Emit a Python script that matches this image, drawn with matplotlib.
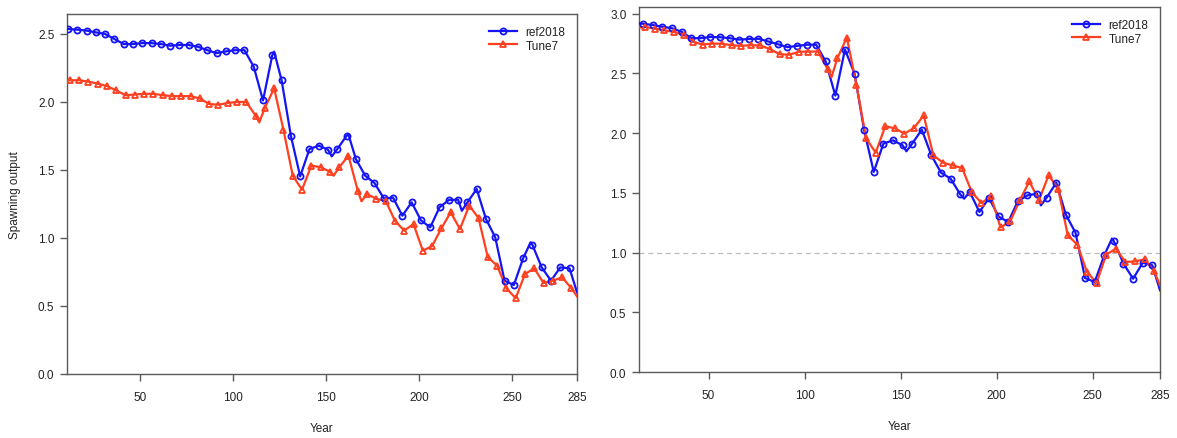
import matplotlib
matplotlib.use("Agg")
import numpy as np
import matplotlib.pyplot as plt

plt.rcParams['font.family'] = ['Liberation Sans', 'DejaVu Sans']

# ---------------- data ----------------
series_names = ["ref2018", "Tune7"]
x_ticks = [50, 100, 150, 200, 250, 285]
left_y_ticks = [0.0, 0.5, 1.0, 1.5, 2.0, 2.5]
right_y_ticks = [0.0, 0.5, 1.0, 1.5, 2.0, 2.5, 3.0]

left_ref_years = [11, 16, 21, 26, 31, 36, 41, 46, 51, 56, 61, 66, 71, 76, 81, 86, 91, 96, 101, 106,
                  111, 116, 121, 122, 126, 131, 136, 141, 146, 151, 153, 156, 161, 162, 166, 171, 176,
                  181, 186, 191, 196, 201, 206, 211, 216, 221, 223, 226, 231, 236, 241, 246, 251, 256,
                  260, 261, 266, 271, 276, 281, 285]
left_ref_vals = [2.537, 2.532, 2.525, 2.512, 2.50, 2.463, 2.426, 2.426, 2.433, 2.433, 2.426, 2.414,
                 2.419, 2.419, 2.406, 2.381, 2.359, 2.372, 2.381, 2.381,
                 2.26, 2.011, 2.344, 2.37, 2.16, 1.752, 1.453, 1.654, 1.679, 1.649, 1.60, 1.654, 1.752,
                 1.76, 1.58, 1.458, 1.404, 1.292, 1.296, 1.164, 1.262, 1.13, 1.078, 1.225, 1.279, 1.282,
                 1.20, 1.262, 1.36, 1.14, 1.005, 0.686, 0.654, 0.85, 0.968, 0.949, 0.784, 0.686, 0.784,
                 0.777, 0.60]

left_tune_years = [11, 12, 17, 22, 27, 32, 37, 42, 47, 52, 57, 62, 67, 72, 77, 82, 87, 92, 97, 102, 107,
                   112, 114, 117, 122, 127, 132, 137, 142, 147, 152, 154, 157, 162, 167, 169, 172, 177,
                   182, 187, 192, 197, 202, 207, 212, 217, 222, 227, 232, 237, 242, 247, 252, 257, 262,
                   267, 272, 277, 282, 285]
left_tune_vals = [2.16, 2.16, 2.16, 2.15, 2.135, 2.117, 2.085, 2.05, 2.055, 2.06, 2.06, 2.05, 2.043,
                  2.043, 2.043, 2.026, 1.985, 1.98, 1.993, 2.0, 2.0,
                  1.90, 1.85, 1.957, 2.10, 1.796, 1.458, 1.355, 1.532, 1.52, 1.488, 1.458, 1.52, 1.605,
                  1.348, 1.27, 1.324, 1.287, 1.274, 1.127, 1.054, 1.103, 0.907, 0.94, 1.071, 1.189,
                  1.066, 1.238, 1.147, 0.858, 0.797, 0.63, 0.557, 0.735, 0.777, 0.669, 0.686, 0.711,
                  0.63, 0.571]

right_ref_years = [14, 16, 21, 26, 31, 36, 41, 46, 51, 56, 61, 66, 71, 76, 81, 86, 91, 96, 101, 106,
                   111, 116, 121, 126, 131, 136, 141, 146, 151, 153, 156, 161, 166, 171, 176, 181, 183,
                   186, 191, 196, 201, 206, 211, 216, 221, 223, 226, 231, 236, 241, 246, 251, 256, 260,
                   261, 266, 271, 276, 281, 285]
right_ref_vals = [2.92, 2.915, 2.905, 2.89, 2.878, 2.848, 2.795, 2.795, 2.805, 2.803, 2.795, 2.783,
                  2.788, 2.79, 2.768, 2.745, 2.72, 2.73, 2.74, 2.74,
                  2.60, 2.314, 2.70, 2.498, 2.024, 1.675, 1.912, 1.94, 1.898, 1.848, 1.912, 2.029,
                  1.814, 1.669, 1.619, 1.488, 1.451, 1.507, 1.34, 1.457, 1.302, 1.256, 1.429, 1.479,
                  1.493, 1.395, 1.46, 1.585, 1.317, 1.167, 0.787, 0.754, 0.977, 1.117, 1.094, 0.907,
                  0.781, 0.915, 0.893, 0.684]

right_tune_years = [14, 17, 22, 27, 32, 37, 42, 47, 52, 57, 62, 67, 72, 77, 82, 87, 92, 97, 102, 107,
                    112, 114, 117, 122, 127, 132, 137, 142, 147, 152, 157, 162, 167, 172, 177, 182, 187,
                    192, 197, 202, 207, 212, 217, 222, 227, 232, 237, 242, 247, 252, 257, 262, 267, 272,
                    277, 282, 285]
right_tune_vals = [2.885, 2.889, 2.875, 2.861, 2.847, 2.825, 2.765, 2.742, 2.75, 2.748, 2.736, 2.731,
                   2.736, 2.734, 2.703, 2.661, 2.656, 2.681, 2.683, 2.683,
                   2.536, 2.467, 2.625, 2.80, 2.403, 1.958, 1.836, 2.058, 2.04, 1.996, 2.043, 2.149,
                   1.814, 1.753, 1.73, 1.708, 1.507, 1.415, 1.47, 1.21, 1.261, 1.437, 1.596, 1.437,
                   1.647, 1.535, 1.144, 1.066, 0.837, 0.748, 0.982, 1.033, 0.921, 0.926, 0.943, 0.843,
                   0.725]

ref_marker_offset = 11   # markers every 5 years starting at year 11
tune_marker_offset = 12  # markers every 5 years starting at year 12

# ---------------- style ----------------
BLUE = '#1414f5'
RED = '#ff4020'
SPINE = '#5a5a5a'
TXT = '#222222'

fig = plt.figure(figsize=(11.77, 4.39), dpi=100)
W, H = 1177, 439
axL = fig.add_axes([67 / W, 1 - 375 / H, (577 - 67) / W, (375 - 15) / H])
axR = fig.add_axes([639 / W, 1 - 373 / H, (1160 - 639) / W, (373 - 8) / H])


def draw_series(ax, yrs, vals, offset, color, marker, label, ms):
    yrs = np.asarray(yrs, dtype=float)
    vals = np.asarray(vals, dtype=float)
    ax.plot(yrs, vals, '-', color=color, lw=1.6, zorder=3, solid_joinstyle='round')
    m = ((yrs - offset) % 5 == 0)
    ax.plot(yrs[m], vals[m], linestyle='none', marker=marker, markersize=ms,
            markerfacecolor='none', markeredgecolor=color, markeredgewidth=1.3, zorder=4)
    # legend proxy
    ax.plot([], [], '-', color=color, lw=1.6, marker=marker, markersize=ms,
            markerfacecolor='none', markeredgecolor=color, markeredgewidth=1.3, label=label)


def style_axes(ax, xlim, ylim, yticks):
    ax.set_xlim(*xlim)
    ax.set_ylim(*ylim)
    ax.set_xticks(x_ticks)
    ax.set_yticks(yticks)
    ax.set_yticklabels([f"{t:.1f}" for t in yticks])
    for s in ax.spines.values():
        s.set_color(SPINE)
        s.set_linewidth(1.0)
    ax.tick_params(direction='out', length=5, width=1.0, color=SPINE, labelsize=8.5,
                   labelcolor=TXT, pad=4)
    ax.tick_params(axis='x', pad=7)
    ax.set_xlabel("Year", fontsize=8.5, color=TXT, labelpad=14)
    leg = ax.legend(loc='upper right', frameon=False, fontsize=8.5, handlelength=2.4,
                    handletextpad=0.7, labelspacing=0.15, borderaxespad=0.6)
    for t in leg.get_texts():
        t.set_color(TXT)


draw_series(axL, left_ref_years, left_ref_vals, ref_marker_offset, BLUE, 'o', series_names[0], 4.4)
draw_series(axL, left_tune_years, left_tune_vals, tune_marker_offset, RED, '^', series_names[1], 5.0)
style_axes(axL, (10.5, 285), (0, 2.647), left_y_ticks)
axL.set_ylabel("Spawning output", fontsize=8.5, color=TXT, labelpad=12)

axR.axhline(1.0, color='#bbbbbb', lw=0.9, ls=(0, (4, 3)), zorder=1)
draw_series(axR, right_ref_years, right_ref_vals, ref_marker_offset, BLUE, 'o', series_names[0], 4.4)
draw_series(axR, right_tune_years, right_tune_vals, tune_marker_offset, RED, '^', series_names[1], 5.0)
style_axes(axR, (13.8, 285), (0, 3.056), right_y_ticks)

fig.savefig("out.png", dpi=100)
